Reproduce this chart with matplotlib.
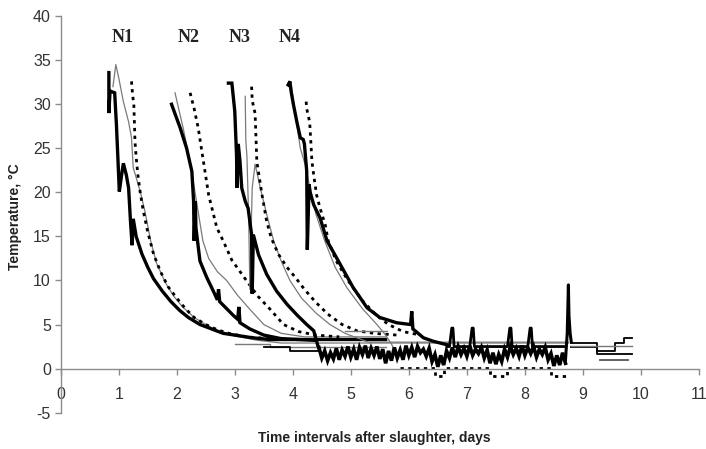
import numpy as np
import matplotlib
matplotlib.use("Agg")
import matplotlib.pyplot as plt

# ---------------- data ----------------
group_labels = ["N1", "N2", "N3", "N4"]
label_x = [1.07, 2.2, 3.08, 3.95]
label_y = [37.6, 37.6, 37.6, 37.6]

# N1
n1_thick_x = [0.83, 0.83, 0.85, 0.93, 0.96, 0.99, 1.01, 1.05, 1.08, 1.13, 1.17, 1.20, 1.23, 1.25, 1.30, 1.40, 1.50,
              1.60, 1.75, 1.90, 2.05, 2.20, 2.40, 2.60, 2.80, 3.00, 3.30, 3.60, 4.40, 5.60]
n1_thick_y = [33.6, 29.0, 31.5, 31.3, 27.7, 23.2, 20.1, 22.0, 23.3, 22.0, 20.5, 17.0, 14.0, 17.0, 15.0, 13.0, 11.5,
              10.2, 8.8, 7.6, 6.6, 5.8, 5.0, 4.5, 4.0, 3.8, 3.5, 3.3, 3.3, 3.3]
n1_grey_x = [0.90, 0.95, 1.00, 1.08, 1.17, 1.22, 1.25, 1.37, 1.45, 1.55, 1.65, 1.80, 1.95, 2.10, 2.30, 2.50, 2.70,
             3.00, 3.40, 3.80, 8.75]
n1_grey_y = [32.0, 34.5, 33.0, 30.3, 28.0, 26.2, 22.8, 20.1, 17.9, 14.5, 12.0, 9.8, 8.2, 7.0, 5.8, 5.0, 4.3,
             3.7, 3.2, 2.9, 2.9]
n1_dot_x = [1.22, 1.24, 1.26, 1.28, 1.30, 1.33, 1.37, 1.42, 1.50, 1.60, 1.72, 1.85, 2.00, 2.15, 2.30, 2.50, 2.70,
            2.90, 3.20, 3.60]
n1_dot_y = [32.6, 31.0, 30.0, 25.8, 24.0, 22.0, 20.0, 18.0, 15.5, 13.0, 11.0, 9.3, 8.0, 6.8, 5.8, 5.0, 4.4,
            4.0, 3.6, 3.4]

# N2
n2_thick_x = [1.91, 2.06, 2.17, 2.26, 2.29, 2.30, 2.32, 2.33, 2.40, 2.52, 2.63, 2.70, 2.72, 2.74, 2.80, 2.98, 3.05,
              3.07, 3.09, 3.26, 3.50, 3.80, 4.40]
n2_thick_y = [30.0, 27.3, 25.0, 22.4, 19.0, 14.5, 19.0, 16.0, 12.2, 10.3, 8.8, 7.8, 9.0, 7.6, 7.2, 6.0, 5.6,
              7.0, 5.2, 4.5, 3.8, 3.4, 3.2]
n2_grey_x = [1.97, 2.11, 2.23, 2.32, 2.45, 2.55, 2.70, 2.86, 3.05, 3.25, 3.50, 3.80, 4.20, 5.60]
n2_grey_y = [31.3, 27.3, 23.5, 19.8, 14.5, 12.5, 11.0, 10.0, 8.3, 6.8, 5.0, 4.0, 3.6, 3.6]
n2_dot_x = [2.23, 2.30, 2.37, 2.46, 2.55, 2.69, 2.80, 2.95, 3.20, 3.40, 3.60, 3.84, 4.10, 4.40, 4.80]
n2_dot_y = [31.3, 29.5, 27.3, 23.5, 19.7, 16.0, 14.5, 12.3, 10.0, 8.2, 6.8, 5.0, 4.2, 3.8, 3.6]

# N3
n3_thick_x = [2.89, 2.95, 3.00, 3.03, 3.04, 3.06, 3.09, 3.12, 3.18, 3.23, 3.26, 3.29, 3.30, 3.32, 3.41, 3.55, 3.72,
              3.90, 4.07, 4.24, 4.36, 4.44]
n3_thick_y = [32.4, 32.4, 29.2, 24.3, 20.5, 25.5, 23.5, 20.5, 19.0, 18.2, 16.7, 15.2, 8.5, 15.2, 12.9, 10.7, 8.8,
              7.3, 6.1, 5.0, 4.3, 2.4]
n3_grey_x = [3.18, 3.19, 3.21, 3.24, 3.26, 3.30, 3.35, 3.44, 3.55, 3.67, 3.80, 3.95, 4.15, 4.40, 4.64, 4.90, 5.30,
             8.75]
n3_grey_y = [30.9, 26.0, 24.0, 17.0, 9.0, 20.5, 23.2, 20.5, 17.5, 14.5, 12.2, 10.0, 8.0, 6.3, 5.0, 4.0, 3.0,
             3.0]
n3_dot_x = [3.29, 3.30, 3.33, 3.35, 3.38, 3.47, 3.55, 3.63, 3.75, 3.90, 4.05, 4.20, 4.40, 4.60, 4.85, 5.10, 5.40,
            5.80]
n3_dot_y = [32.0, 30.5, 29.5, 29.0, 23.5, 19.7, 16.7, 14.8, 13.0, 11.5, 10.3, 9.0, 7.5, 6.2, 5.0, 4.3, 4.0,
            3.8]

# N4
n4_thick_x = [3.92, 3.95, 3.97, 4.01, 4.07, 4.13, 4.18, 4.20, 4.24, 4.25, 4.28, 4.30, 4.36, 4.47, 4.59, 4.82, 5.04,
              5.28, 5.50, 5.79, 6.03, 6.05, 6.07, 6.25, 6.42, 6.66]
n4_thick_y = [32.2, 32.6, 31.5, 30.0, 28.0, 26.2, 26.0, 25.5, 22.4, 13.5, 20.9, 20.0, 18.6, 17.1, 14.5, 11.8, 9.2,
              6.9, 5.8, 5.2, 5.0, 6.5, 4.5, 3.5, 3.1, 2.7]
n4_grey_x = [3.93, 3.97, 4.05, 4.13, 4.22, 4.30, 4.40, 4.55, 4.73, 4.93, 5.20, 5.45, 5.60, 5.70, 5.76, 5.80]
n4_grey_y = [32.0, 32.3, 28.5, 25.0, 23.0, 20.3, 17.5, 14.5, 11.5, 9.2, 6.8, 5.0, 3.8, 2.8, 2.0, 1.8]
n4_dot_x = [4.23, 4.24, 4.29, 4.30, 4.33, 4.36, 4.41, 4.47, 4.56, 4.61, 4.75, 4.95, 5.20, 5.45, 5.65, 5.90, 6.20]
n4_dot_y = [30.3, 29.5, 28.0, 27.0, 23.5, 22.0, 19.7, 18.2, 16.3, 14.5, 12.2, 10.0, 7.7, 6.0, 5.0, 4.2, 3.8]

# long flat tail of N4 core with small spikes (days, °C)
tail4_x = [6.66, 6.70, 6.74, 6.76, 6.78, 7.05, 7.09, 7.11, 7.13, 7.70, 7.74, 7.76, 7.78, 8.05, 8.09, 8.11, 8.13, 8.70]
tail4_y = [2.5, 2.5, 4.6, 4.6, 2.5, 2.5, 4.6, 4.6, 2.5, 2.5, 4.6, 4.6, 2.5, 2.5, 4.6, 4.6, 2.5, 2.5]

# further flat storage lines (steps)
flat_grey_x = [3.00, 3.60, 4.50, 5.60]
flat_grey_y = [2.8, 2.5, 2.5, 2.5]
flat_black_x = [3.50, 3.95, 4.45]
flat_black_y = [2.4, 2.0, 2.0]
flat_grey2_x = [4.90, 5.62]
flat_grey2_y = [4.25, 4.25]

# noisy storage part of N3 core, sampled every 0.05 day from 4.45 to 8.70
noise_start, noise_step = 4.45, 0.05
noise_y = [2.4, 1.2, 2.0, 0.9, 1.8, 1.1, 2.3, 1.0, 2.1, 1.4,
           2.5, 1.3, 2.2, 1.0, 2.4, 1.6, 2.6, 1.2, 2.3, 1.5,
           2.5, 1.1, 2.2, 0.6, 2.0, 0.9, 2.4, 1.2, 2.1, 1.0,
           2.6, 1.5, 2.4, 1.3, 2.5, 1.8, 2.2, 1.4, 2.3, 0.8,
           1.6, 0.2, 1.5, 0.4, 2.0, 1.2, 2.4, 1.3, 2.5, 1.6,
           2.3, 1.4, 2.6, 1.5, 2.2, 1.7, 2.4, 1.2, 2.1, 0.6,
           1.8, 0.5, 1.6, 0.8, 2.2, 1.3, 2.5, 1.6, 2.3, 1.4,
           2.6, 1.5, 2.4, 1.7, 2.5, 1.3, 2.2, 1.6, 2.4, 1.0,
           1.7, 0.3, 1.5, 0.4, 1.8, 0.6]
# spike at day 8.75 and the following re-stored period
spike_x = [8.70, 8.73, 8.75, 8.76, 8.78, 8.80]
spike_y = [1.0, 4.0, 9.5, 6.0, 4.0, 3.0]
after1_x = [8.80, 9.25, 9.55, 9.70, 9.85]
after1_y = [2.9, 2.0, 2.9, 3.5, 3.5]
after2_x = [8.80, 9.00, 9.25, 9.85]
after2_y = [2.4, 2.4, 1.7, 1.7]
after3_x = [9.30, 9.78]
after3_y = [1.0, 1.0]
after4_x = [8.80, 9.85]
after4_y = [2.6, 2.6]
# low dotted tail (steps)
lowdot_x = [5.85, 6.45, 6.60, 6.75, 7.40, 7.70, 8.45, 8.72]
lowdot_y = [0.1, -0.8, 0.1, 0.1, -0.8, 0.1, -0.8, -0.8]

xticks = list(range(0, 12))
yticks = list(range(-5, 41, 5))

# ---------------- figure ----------------
plt.rcParams["font.family"] = ["Liberation Sans", "DejaVu Sans"]
plt.rcParams["axes.unicode_minus"] = False
fig = plt.figure(figsize=(7.06, 4.49), dpi=100)
ax = fig.add_axes([0.086, 0.081, 0.904, 0.883])

thick = dict(color="black", lw=2.4, solid_joinstyle="miter")
grey = dict(color="#7a7a7a", lw=0.9)
dots = dict(color="black", lw=2.0, linestyle=(0, (1.2, 1.6)))

for tx, ty, gx, gy, dx, dy in [
    (n1_thick_x, n1_thick_y, n1_grey_x, n1_grey_y, n1_dot_x, n1_dot_y),
    (n2_thick_x, n2_thick_y, n2_grey_x, n2_grey_y, n2_dot_x, n2_dot_y),
    (n3_thick_x, n3_thick_y, n3_grey_x, n3_grey_y, n3_dot_x, n3_dot_y),
    (n4_thick_x, n4_thick_y, n4_grey_x, n4_grey_y, n4_dot_x, n4_dot_y),
]:
    ax.plot(gx, gy, **grey)
    ax.plot(dx, dy, **dots)
    ax.plot(tx, ty, **thick)

ax.plot(flat_grey_x, flat_grey_y, color="#7a7a7a", lw=1.0, drawstyle="steps-post")
ax.plot(flat_black_x, flat_black_y, color="black", lw=1.3, drawstyle="steps-post")
ax.plot(flat_grey2_x, flat_grey2_y, color="#7a7a7a", lw=1.0)

noise_x = [noise_start + i * noise_step for i in range(len(noise_y))]
ax.plot(noise_x, noise_y, color="black", lw=2.6, solid_joinstyle="miter")
ax.plot(tail4_x, tail4_y, color="black", lw=2.0)
ax.plot(spike_x, spike_y, color="black", lw=2.2)
ax.plot(after1_x, after1_y, color="black", lw=1.3, drawstyle="steps-post")
ax.plot(after2_x, after2_y, color="black", lw=1.3, drawstyle="steps-post")
ax.plot(after3_x, after3_y, color="#555555", lw=1.3)
ax.plot(after4_x, after4_y, color="#777777", lw=1.0)
ax.plot(lowdot_x, lowdot_y, drawstyle="steps-post", **dots)

for lab, lx, ly in zip(group_labels, label_x, label_y):
    ax.text(lx, ly, lab, ha="center", va="center", fontsize=13, fontweight="bold",
            family="Liberation Serif", color="#222222")

ax.set_xlim(0, 11)
ax.set_ylim(-5, 40)
ax.set_xticks(xticks)
ax.set_yticks(yticks)
for s in ["top", "right"]:
    ax.spines[s].set_visible(False)
ax.spines["bottom"].set_position(("data", 0))
for s in ["left", "bottom"]:
    ax.spines[s].set_color("#8c8c8c")
    ax.spines[s].set_linewidth(1.0)
ax.tick_params(axis="both", colors="#8c8c8c", labelcolor="#333333", labelsize=11.5, length=4, width=1.0)
ax.tick_params(axis="x", pad=9)
ax.tick_params(axis="y", pad=3)

fig.text(0.021, 0.517, "Temperature, °C", rotation=90, ha="center", va="center",
         fontsize=10, fontweight="bold", color="#222222")
fig.text(0.530, 0.024, "Time intervals after slaughter, days", ha="center", va="center",
         fontsize=10, fontweight="bold", color="#222222")

fig.savefig("out.png", dpi=100)
